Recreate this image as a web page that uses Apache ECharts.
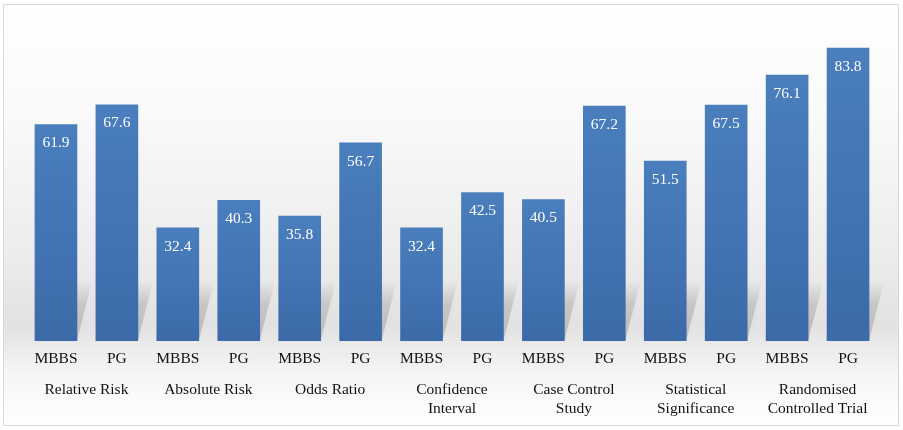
<!DOCTYPE html>
<html>
<head>
<meta charset="utf-8">
<script src="https://cdn.jsdelivr.net/npm/echarts@6/dist/echarts.min.js"></script>
<style>html,body{margin:0;padding:0;background:#fff}#c{width:903px;height:430px}</style>
</head>
<body>
<div id="c"></div>
<script>
var groups = ['Relative Risk', 'Absolute Risk', 'Odds Ratio', 'Confidence\nInterval', 'Case Control\nStudy', 'Statistical\nSignificance', 'Randomised\nControlled Trial'];
var subLabels = ['MBBS', 'PG'];
var mbbs = [61.9, 32.4, 35.8, 32.4, 40.5, 51.5, 76.1];
var pg = [67.6, 40.3, 56.7, 42.5, 67.2, 67.5, 83.8];

var cats = [], vals = [];
for (var i = 0; i < groups.length; i++) {
  cats.push(subLabels[0]); vals.push(mbbs[i]);
  cats.push(subLabels[1]); vals.push(pg[i]);
}
var FONT = '"Liberation Serif", "Times New Roman", serif';
var chart = echarts.init(document.getElementById('c'));
chart.setOption({
  animation: false,
  graphic: [{
    type: 'rect', z: -10, silent: true,
    shape: { x: 3.5, y: 4.5, width: 895, height: 421 },
    style: {
      stroke: '#d9d9d9', lineWidth: 1,
      fill: new echarts.graphic.LinearGradient(0, 0, 0, 1, [
        { offset: 0, color: '#ffffff' },
        { offset: 0.25, color: '#fafafa' },
        { offset: 0.6, color: '#ececec' },
        { offset: 0.76, color: '#e2e2e2' },
        { offset: 0.88, color: '#f6f6f6' },
        { offset: 1, color: '#ffffff' }
      ])
    }
  }],
  grid: { left: 25.5, right: 24.5, top: 26, bottom: 89, containLabel: false },
  xAxis: [{
    type: 'category', data: cats,
    axisLine: { show: false }, axisTick: { show: false },
    axisLabel: { interval: 0, margin: 10, fontFamily: FONT, fontSize: 15.5, color: '#111' }
  }, {
    type: 'category', data: groups, position: 'bottom',
    axisLine: { show: false }, axisTick: { show: false },
    axisLabel: { interval: 0, hideOverlap: false, margin: 39, fontFamily: FONT, fontSize: 15.5, color: '#111', lineHeight: 19 }
  }],
  yAxis: { type: 'value', min: 0, max: 90, show: false, splitLine: { show: false } },
  series: [{
    type: 'custom', z: 1, silent: true,
    data: vals.map(function (v, i) { return [i, v]; }),
    renderItem: function (params, api) {
      var idx = api.value(0), v = api.value(1);
      var base = api.coord([idx, 0]);
      var top = api.coord([idx, v]);
      var bw = api.size([1, 0])[0] * 0.7;
      var x0 = base[0] - bw / 2, x1 = base[0] + bw / 2;
      var h = Math.min(base[1] - top[1], 60), dx = 15;
      return {
        type: 'polygon',
        shape: { points: [[x0, base[1] - 2], [x1, base[1] - 2], [x1 + dx, base[1] - h], [x0 + dx, base[1] - h]] },
        style: {
          fill: new echarts.graphic.LinearGradient(0, 1, 0, 0, [
            { offset: 0, color: 'rgba(0,0,0,0.16)' },
            { offset: 0.6, color: 'rgba(0,0,0,0.12)' },
            { offset: 1, color: 'rgba(0,0,0,0.0)' }
          ]),
          shadowBlur: 6, shadowColor: 'rgba(0,0,0,0.12)'
        }
      };
    }
  }, {
    type: 'bar', z: 3, data: vals, barWidth: '70%', xAxisIndex: 0,
    itemStyle: {
      color: new echarts.graphic.LinearGradient(0, 0, 0, 1, [
        { offset: 0, color: '#4a7ebd' },
        { offset: 1, color: '#3c6aa9' }
      ])
    },
    label: {
      show: true, position: 'insideTop', distance: 11,
      color: '#ffffff', fontFamily: FONT, fontSize: 15.5,
      formatter: function (p) { return p.value.toFixed(1); }
    }
  }]
});
</script>
</body>
</html>
